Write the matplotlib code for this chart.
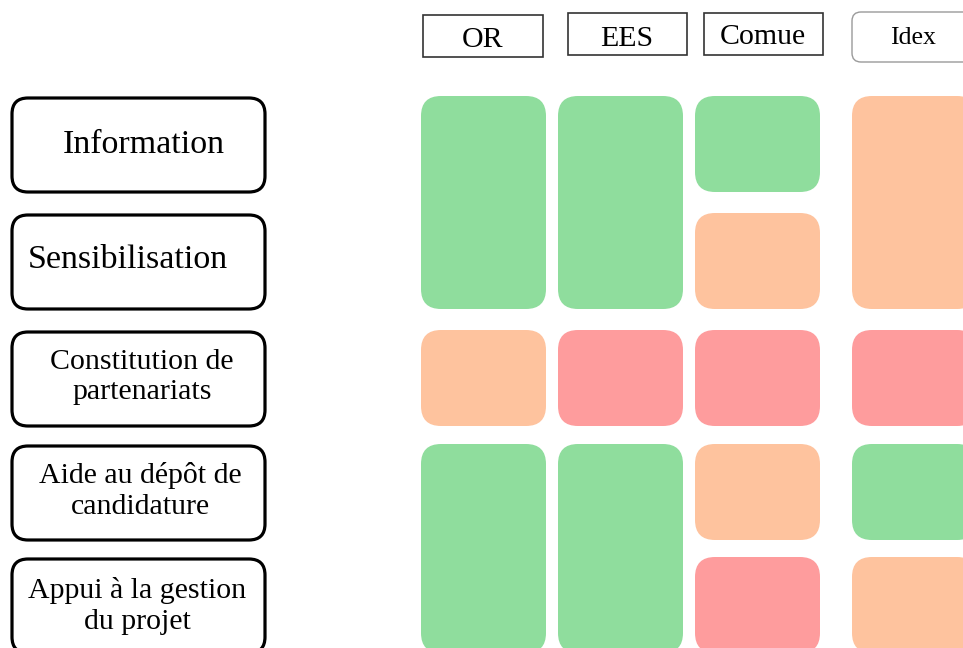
import matplotlib
matplotlib.use("Agg")
import matplotlib.pyplot as plt
from matplotlib.patches import FancyBboxPatch, Rectangle

plt.rcParams['font.family'] = ['Liberation Serif', 'DejaVu Serif']

# Données : actions (lignes), acteurs (colonnes), niveau par case
actions = ["Information", "Sensibilisation", "Constitution de\npartenariats",
           "Aide au dépôt de\ncandidature", "Appui à la gestion\ndu projet"]
acteurs = ["OR", "EES", "Comue", "Idex"]
niveaux = {
    "OR":    ["vert", "vert", "orange", "vert", "vert"],
    "EES":   ["vert", "vert", "rouge", "vert", "vert"],
    "Comue": ["vert", "orange", "rouge", "orange", "rouge"],
    "Idex":  ["orange", "orange", "rouge", "vert", "orange"],
}
couleurs = {"vert": "#8fdd9d", "orange": "#fec39e", "rouge": "#fe9c9d"}

# Mise en page (pixels)
row_top = [96, 213, 330, 444, 557]
row_h = 96
col_left = [421, 558, 695, 852]
col_w = 125
label_pos = [(144, 145), (128, 260), (142, 377), (140, 491), (137, 606)]
label_size = [24.5, 24.5, 21.5, 21.5, 21.5]
head_box = [(423, 15, 120, 42), (568, 13, 119, 42), (704, 13, 119, 42), (852, 12, 130, 50)]
head_txt = [(483, 40, 21.5), (627, 39, 21.5), (763, 37, 21.5), (913, 38, 18.5)]

fig = plt.figure(figsize=(9.63, 6.48), dpi=100)
ax = fig.add_axes([0, 0, 1, 1])
ax.set_xlim(0, 963)
ax.set_ylim(648, 0)
ax.axis('off')

# Boîtes des actions
for i, lab in enumerate(actions):
    ax.add_patch(FancyBboxPatch((12, row_top[i] + 2), 253, 94,
                                boxstyle="round,pad=0,rounding_size=16",
                                fc="white", ec="black", lw=2.3))
    x, y = label_pos[i]
    ax.text(x, y, lab, ha="center", va="center", fontsize=label_size[i],
            linespacing=1.22)

# En-têtes des acteurs
for j, name in enumerate(acteurs):
    bx, by, bw, bh = head_box[j]
    if name == "Idex":
        ax.add_patch(FancyBboxPatch((bx, by), bw, bh,
                                    boxstyle="round,pad=0,rounding_size=9",
                                    fc="white", ec="#9a9a9a", lw=1.0))
    else:
        ax.add_patch(Rectangle((bx, by), bw, bh, fc="white", ec="#333333", lw=1.2))
    tx, ty, fs = head_txt[j]
    ax.text(tx, ty, name, ha="center", va="center", fontsize=fs)

# Cases colorées : fusion des niveaux identiques consécutifs
for j, name in enumerate(acteurs):
    vals = niveaux[name]
    i = 0
    while i < len(vals):
        k = i
        while k + 1 < len(vals) and vals[k + 1] == vals[i]:
            k += 1
        top = row_top[i]
        bottom = row_top[k] + row_h
        ax.add_patch(FancyBboxPatch((col_left[j], top), col_w, bottom - top,
                                    boxstyle="round,pad=0,rounding_size=20",
                                    fc=couleurs[vals[i]], ec="none"))
        i = k + 1

fig.savefig("out.png", dpi=100)
